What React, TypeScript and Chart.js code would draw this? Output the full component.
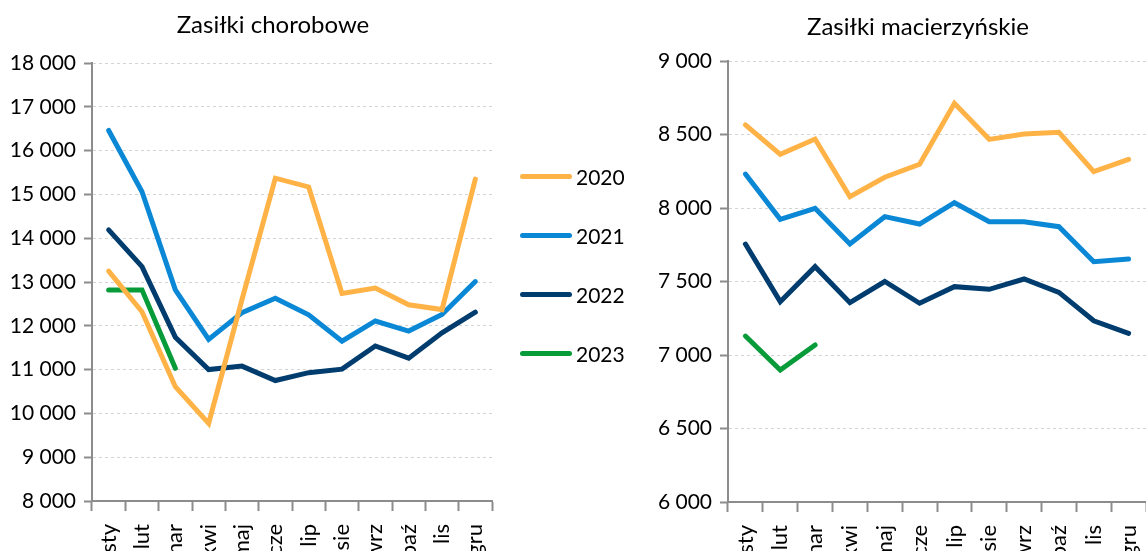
import React, { useEffect, useRef } from "react";
import { Chart, registerables } from "chart.js";

Chart.register(...registerables);

const months = ["sty", "lut", "mar", "kwi", "maj", "cze", "lip", "sie", "wrz", "paź", "lis", "gru"];
const years = ["2020", "2021", "2022", "2023"];
const colors = ["#FFB347", "#0A88D6", "#003D6E", "#089B3A"];

const sick2020 = [13250, 12320, 10610, 9770, 12600, 15370, 15170, 12740, 12860, 12480, 12370, 15350];
const sick2021 = [16460, 15060, 12820, 11690, 12300, 12630, 12250, 11650, 12110, 11880, 12260, 13010];
const sick2022 = [14190, 13350, 11740, 11000, 11080, 10750, 10930, 11010, 11540, 11260, 11840, 12310];
const sick2023 = [12820, 12820, 11030];

const mat2020 = [8565, 8365, 8469, 8077, 8209, 8297, 8712, 8467, 8503, 8515, 8247, 8331];
const mat2021 = [8231, 7923, 7998, 7755, 7941, 7891, 8036, 7907, 7907, 7873, 7635, 7653];
const mat2022 = [7755, 7363, 7601, 7356, 7500, 7352, 7465, 7447, 7517, 7426, 7233, 7147];
const mat2023 = [7129, 6898, 7068];

const sickTicks = { min: 8000, max: 18000, step: 1000 };
const matTicks = { min: 6000, max: 9000, step: 500 };

const FONT = "Lato, 'Open Sans', sans-serif";
const AXIS = "#8c8c8c";
const GRID = "#d4d4d4";

function fmt(v: number) {
  const s = String(Math.round(v));
  return s.replace(/\B(?=(\d{3})+(?!\d))/g, " ");
}

function makeConfig(series: number[][], range: { min: number; max: number; step: number }, yWidth: number, top: number, xHeight: number, rightPad: number, xTickLen: number) {
  return {
    type: "line" as const,
    data: {
      labels: months,
      datasets: series.map((d, i) => ({
        label: years[i],
        data: d,
        borderColor: colors[i],
        backgroundColor: colors[i],
        borderWidth: 5,
        pointRadius: 0,
        pointHoverRadius: 0,
        tension: 0,
        fill: false,
        borderCapStyle: "round" as const,
        borderJoinStyle: "miter" as const,
      })),
    },
    options: {
      animation: false as const,
      responsive: false,
      maintainAspectRatio: false,
      events: [],
      layout: { padding: { top, right: rightPad, bottom: 0, left: 0 } },
      plugins: { legend: { display: false }, title: { display: false }, tooltip: { enabled: false } },
      scales: {
        x: {
          offset: true,
          grid: {
            display: true,
            drawOnChartArea: false,
            drawTicks: true,
            offset: true,
            tickLength: xTickLen,
            tickColor: AXIS,
            tickWidth: 2,
          },
          border: { display: true, color: AXIS, width: 2 },
          ticks: {
            autoSkip: false,
            minRotation: 90,
            maxRotation: 90,
            padding: 13,
            color: "#000",
            font: { family: FONT, size: 22 },
          },
          afterFit: (s: any) => {
            s.height = xHeight;
            s.paddingLeft = 0;
            s.paddingRight = 0;
          },
        },
        y: {
          min: range.min,
          max: range.max,
          grid: {
            display: true,
            color: GRID,
            lineWidth: 1,
            tickBorderDash: [],
            tickColor: AXIS,
            tickWidth: 2,
            tickLength: 8,
          },
          border: { display: true, color: AXIS, width: 2, dash: [3, 3] },
          ticks: {
            stepSize: range.step,
            padding: 8,
            color: "#000",
            font: { family: FONT, size: 21 },
            callback: (v: any) => fmt(Number(v)),
          },
          afterFit: (s: any) => {
            s.width = yWidth;
            s.paddingTop = 0;
            s.paddingBottom = 0;
          },
        },
      },
    },
  };
}

function LineChart(props: { cfg: any; left: number; width: number; height: number }) {
  const ref = useRef<HTMLCanvasElement | null>(null);
  useEffect(() => {
    if (!ref.current) return;
    const chart = new Chart(ref.current, props.cfg);
    return () => chart.destroy();
  }, []);
  return (
    <div style={{ position: "absolute", left: props.left, top: 0, width: props.width, height: props.height }}>
      <canvas ref={ref} width={props.width} height={props.height} style={{ width: props.width, height: props.height, display: "block" }} />
    </div>
  );
}

export default function App() {
  const H = 575;
  const leftCfg = makeConfig([sick2020, sick2021, sick2022, sick2023], sickTicks, 92, 63, H - 501, 8, 10);
  const rightCfg = makeConfig([mat2020, mat2021, mat2022, mat2023], matTicks, 128, 61, H - 502, 0, 10);
  const titleStyle: React.CSSProperties = {
    position: "absolute",
    width: 400,
    textAlign: "center",
    fontFamily: FONT,
    fontSize: 24,
    lineHeight: "24px",
    color: "#000",
    whiteSpace: "nowrap",
  };
  return (
    <div style={{ position: "absolute", left: 0, top: 0, width: 1146, height: 551, overflow: "hidden", background: "#fff" }}>
      <LineChart cfg={leftCfg} left={0} width={500} height={H} />
      <LineChart cfg={rightCfg} left={600} width={546} height={H} />
      <div style={{ ...titleStyle, left: 273 - 200, top: 12 }}>Zasiłki chorobowe</div>
      <div style={{ ...titleStyle, left: 918 - 200, top: 14 }}>Zasiłki macierzyńskie</div>
      {years.map((y, i) => (
        <div key={y} style={{ position: "absolute", left: 520, top: 176 + i * 59 - 13, height: 26, display: "flex", alignItems: "center" }}>
          <div style={{ width: 52, height: 5, borderRadius: 3, background: colors[i] }} />
          <div style={{ marginLeft: 4, fontFamily: FONT, fontSize: 21, color: "#000" }}>{y}</div>
        </div>
      ))}
    </div>
  );
}
